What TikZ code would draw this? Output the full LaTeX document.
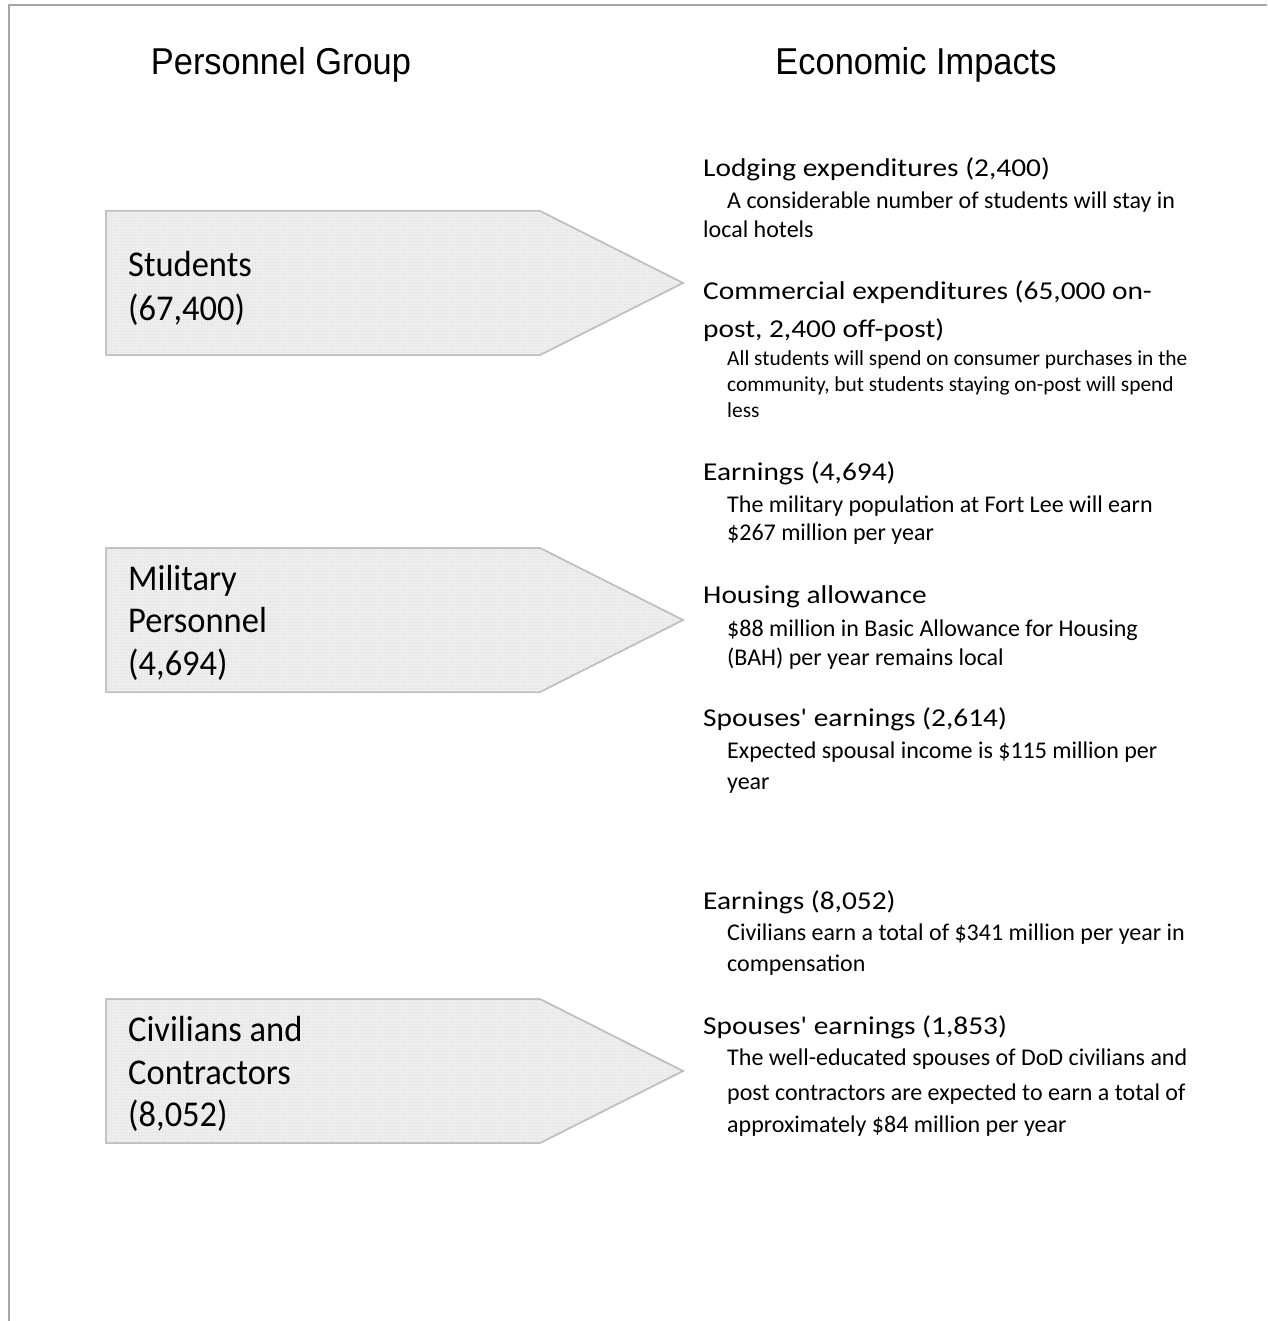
\documentclass[tikz,border=0pt]{standalone}
\usepackage{fontspec}
\setmainfont{Carlito}
\newfontfamily\headf{Carlito}[FakeStretch=1.143, Ligatures=TeXOff]
\newfontfamily\boxf{Carlito}[FakeStretch=0.95]
\newfontfamily\subf{Carlito}[Ligatures=TeXOff]
\newfontfamily\titlef{Liberation Sans}[FakeStretch=0.92]
\usetikzlibrary{patterns}
\begin{document}
\begin{tikzpicture}[x=1pt,y=-1pt,
  frame/.style={draw=black!35, line width=1.5pt},
  pbox/.style={draw=black!25, line width=1.5pt, fill=black!6},
  ptext/.style={anchor=base west, inner sep=0, font=\boxf\fontsize{36.3}{42}\selectfont},
  title/.style={anchor=base, inner sep=0, font=\titlef\fontsize{37.4}{40}\selectfont},
  head/.style={anchor=base west, inner sep=0, font=\headf\fontsize{25.7}{30}\selectfont},
  sub/.style={anchor=base west, inner sep=0, font=\subf\fontsize{24}{28}\selectfont},
  subs/.style={anchor=base west, inner sep=0, font=\subf\fontsize{21.4}{26}\selectfont},
]
\useasboundingbox (0,0) rectangle (1267,1321);
\fill[white] (0,0) rectangle (1267,1321);
% frame
\coordinate (fa) at (9,1321);
\coordinate (fb) at (9,5);
\coordinate (fc) at (1267,5);
\draw[frame] (fa) -- (fb) -- (fc);

% titles
\node[title] (t1) at (281,75) {Personnel Group};
\node[title] (t2) at (916,75) {Economic Impacts};

% arrow boxes
\foreach \y in {211,548,999}{
  \path[pbox] (106,\y) -- (540,\y) -- (683,\y+72) -- (540,\y+144) -- (106,\y+144) -- cycle;
  \path[pattern=grid, pattern color=black!9] (106,\y) -- (540,\y) -- (683,\y+72) -- (540,\y+144) -- (106,\y+144) -- cycle;
  \draw[draw=black!25, line width=1.5pt] (106,\y) -- (540,\y) -- (683,\y+72) -- (540,\y+144) -- (106,\y+144) -- cycle;
}
\node[ptext] (s1) at (128,277) {Students};
\node[ptext] (s2) at (128,320) {(67,400)};
\node[ptext] (m1) at (128,590) {Military};
\node[ptext] (m2) at (128,632) {Personnel};
\node[ptext] (m3) at (128,675) {(4,694)};
\node[ptext] (c1) at (128,1041) {Civilians and};
\node[ptext] (c2) at (128,1084) {Contractors};
\node[ptext] (c3) at (128,1126) {(8,052)};

% impacts
\node[head] (h1) at (703,177) {Lodging expenditures (2,400)};
\node[sub] (h1a) at (727,209) {A considerable number of students will stay in};
\node[sub] (h1b) at (703,238) {local hotels};

\node[head] (h2) at (703,300) {Commercial expenditures (65,000 on-};
\node[head] (h2x) at (703,337) {post, 2,400 off-post)};
\node[subs] (h2a) at (727,365) {All students will spend on consumer purchases in the};
\node[subs] (h2b) at (727,391) {community, but students staying on-post will spend};
\node[subs] (h2c) at (727,417) {less};

\node[head] (h3) at (703,480) {Earnings (4,694)};
\node[sub] (h3a) at (727,512) {The military population at Fort Lee will earn};
\node[sub] (h3b) at (727,540) {\$267 million per year};

\node[head] (h4) at (703,603) {Housing allowance};
\node[sub] (h4a) at (727,636) {\$88 million in Basic Allowance for Housing};
\node[sub] (h4b) at (727,665) {(BAH) per year remains local};

\node[head] (h5) at (703,726) {Spouses' earnings (2,614)};
\node[sub] (h5a) at (727,758) {Expected spousal income is \$115 million per};
\node[sub] (h5b) at (727,789) {year};

\node[head] (h6) at (703,909) {Earnings (8,052)};
\node[sub] (h6a) at (727,940) {Civilians earn a total of \$341 million per year in};
\node[sub] (h6b) at (727,971) {compensation};

\node[head] (h7) at (703,1034) {Spouses' earnings (1,853)};
\node[sub] (h7a) at (727,1065) {The well-educated spouses of DoD civilians and};
\node[sub] (h7b) at (727,1100) {post contractors are expected to earn a total of};
\node[sub] (h7c) at (727,1132) {approximately \$84 million per year};
\end{tikzpicture}
\end{document}
